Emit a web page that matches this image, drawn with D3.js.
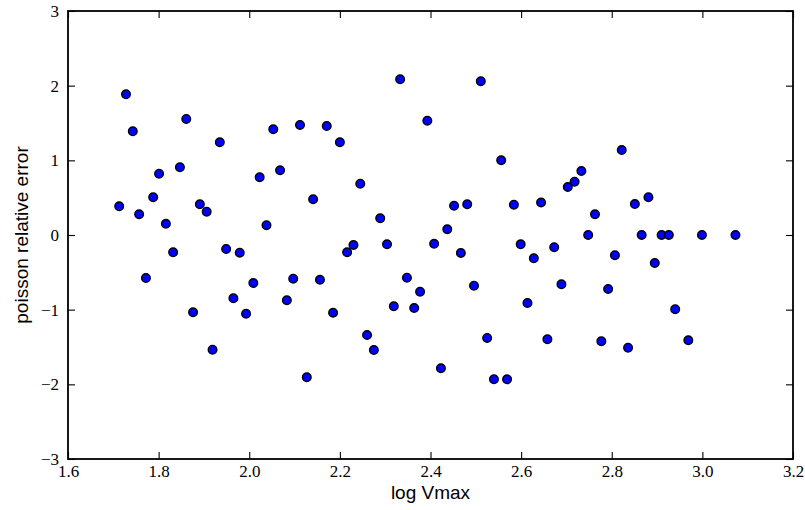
<!DOCTYPE html>
<html>
<head>
<meta charset="utf-8">
<script src="https://cdn.jsdelivr.net/npm/d3@7/dist/d3.min.js"></script>
<style>
  html, body { margin: 0; padding: 0; background: #fff; }
  svg { display: block; }
</style>
</head>
<body>
<svg id="chart" width="805" height="510"></svg>
<script>
// ---- data ----
const logVmax = [
  1.713, 1.728, 1.743, 1.757, 1.772, 1.788, 1.801, 1.816, 1.832, 1.847,
  1.861, 1.876, 1.891, 1.906, 1.919, 1.935, 1.949, 1.965, 1.979, 1.993,
  2.009, 2.023, 2.038, 2.053, 2.068, 2.083, 2.097, 2.112, 2.127, 2.141,
  2.156, 2.171, 2.185, 2.200, 2.216, 2.230, 2.245, 2.260, 2.275, 2.289,
  2.304, 2.319, 2.333, 2.348, 2.364, 2.377, 2.393, 2.408, 2.423, 2.437,
  2.452, 2.467, 2.481, 2.496, 2.511, 2.525, 2.540, 2.556, 2.569, 2.584,
  2.599, 2.614, 2.628, 2.644, 2.658, 2.673, 2.689, 2.703, 2.718, 2.733,
  2.748, 2.763, 2.777, 2.792, 2.807, 2.822, 2.836, 2.851, 2.866, 2.881,
  2.895, 2.910, 2.926, 2.940, 2.969, 2.999, 3.073
];
const poissonRelError = [
  0.384, 1.884, 1.389, 0.277, -0.576, 0.505, 0.821, 0.151, -0.232, 0.907,
  1.554, -1.035, 0.411, 0.312, -1.536, 1.242, -0.188, -0.848, -0.237, -1.054,
  -0.643, 0.773, 0.130, 1.416, 0.867, -0.875, -0.585, 1.473, -1.906, 0.478,
  -0.599, 1.460, -1.041, 1.242, -0.232, -0.134, 0.687, -1.339, -1.540, 0.224,
  -0.125, -0.955, 2.085, -0.572, -0.978, -0.759, 1.531, -0.117, -1.785, 0.076,
  0.392, -0.241, 0.411, -0.679, 2.058, -1.379, -1.933, 1.000, -1.933, 0.406,
  -0.125, -0.911, -0.312, 0.435, -1.396, -0.165, -0.660, 0.643, 0.714, 0.857,
  0.000, 0.277, -1.424, -0.723, -0.272, 1.138, -1.509, 0.415, 0.000, 0.505,
  -0.375, 0.000, 0.000, -0.995, -1.410, 0.000, 0.000
];
const xTicks = [1.6, 1.8, 2.0, 2.2, 2.4, 2.6, 2.8, 3.0, 3.2];
const yTicks = [-3, -2, -1, 0, 1, 2, 3];
const xDomain = [1.6, 3.2];
const yDomain = [-3, 3];
const xLabel = "log Vmax";
const yLabel = "poisson relative error";

// ---- layout ----
const L = 68, R = 793, T = 11, B = 459;
const svg = d3.select("#chart");
const x = d3.scaleLinear().domain(xDomain).range([L, R]);
const y = d3.scaleLinear().domain(yDomain).range([B, T]);

const tickFont = "'Liberation Serif', 'Times New Roman', serif";
const labelFont = "'Liberation Sans', Arial, sans-serif";
const tickLen = 7;

function styleAxis(g, showLabels) {
  g.select(".domain").remove();
  g.selectAll(".tick line").attr("stroke", "#000").attr("stroke-width", 1.1);
  g.selectAll(".tick text")
    .attr("fill", "#000")
    .style("font-family", tickFont)
    .style("font-size", "17px");
  if (!showLabels) g.selectAll(".tick text").remove();
}

svg.append("g").attr("transform", `translate(0,${B})`)
  .call(d3.axisBottom(x).tickValues(xTicks).tickFormat(d3.format(".1f"))
    .tickSize(-tickLen).tickPadding(6))
  .call(g => styleAxis(g, true));
svg.append("g").attr("transform", `translate(0,${T})`)
  .call(d3.axisTop(x).tickValues(xTicks).tickSize(-tickLen))
  .call(g => styleAxis(g, false));
svg.append("g").attr("transform", `translate(${L},0)`)
  .call(d3.axisLeft(y).tickValues(yTicks).tickFormat(d3.format("d"))
    .tickSize(-tickLen).tickPadding(9))
  .call(g => styleAxis(g, true));
svg.append("g").attr("transform", `translate(${R},0)`)
  .call(d3.axisRight(y).tickValues(yTicks).tickSize(-tickLen))
  .call(g => styleAxis(g, false));

// points
const pts = logVmax.map((v, i) => ({ x: v, y: poissonRelError[i] }));
svg.append("g").selectAll("circle").data(pts).join("circle")
  .attr("cx", d => x(d.x))
  .attr("cy", d => y(d.y))
  .attr("r", 4.3)
  .attr("fill", "#0000ff")
  .attr("stroke", "#000")
  .attr("stroke-width", 1.4);

// frame
svg.append("rect")
  .attr("x", L).attr("y", T)
  .attr("width", R - L).attr("height", B - T)
  .attr("fill", "none").attr("stroke", "#000").attr("stroke-width", 1.8);

// axis labels
svg.append("text")
  .attr("x", (L + R) / 2).attr("y", 499)
  .attr("text-anchor", "middle")
  .style("font-family", labelFont).style("font-size", "19px")
  .text(xLabel);
svg.append("text")
  .attr("transform", `translate(28,${(T + B) / 2}) rotate(-90)`)
  .attr("text-anchor", "middle")
  .style("font-family", labelFont).style("font-size", "19px")
  .text(yLabel);
</script>
</body>
</html>
